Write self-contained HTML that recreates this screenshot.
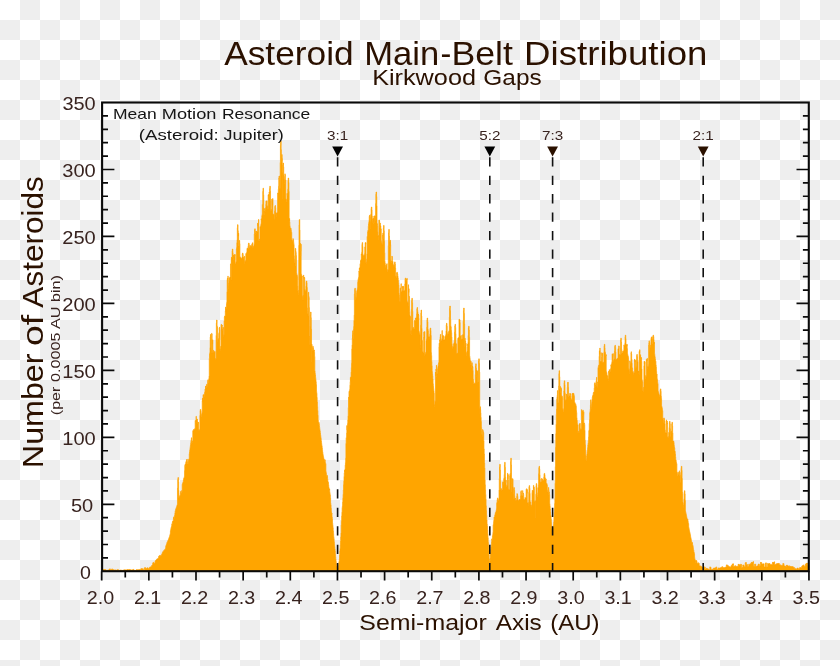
<!DOCTYPE html>
<html><head><meta charset="utf-8"><title>Asteroid Main-Belt Distribution</title>
<style>
html,body{margin:0;padding:0;width:840px;height:666px;overflow:hidden;background:#fff}
#bg{position:absolute;left:0;top:0;width:840px;height:666px;
background:repeating-conic-gradient(#eee 0% 25%,#fff 0% 50%) 0 0/40px 40px}
svg{position:absolute;left:0;top:0;will-change:transform}
text{font-family:"Liberation Sans",sans-serif}
</style></head><body>
<div id="bg"></div>
<svg width="840" height="666" viewBox="0 0 840 666">
<path d="M102.10,571.3V569.6H102.34V569.6H102.57V569.5H102.81V569.6H103.04V569.6H103.28V569.6H103.51V569.6H103.75V569.6H103.98V569.6H104.22V569.7H104.46V569.4H104.69V569.5H104.93V569.5H105.16V569.5H105.40V569.5H105.63V570.2H105.87V570.2H106.10V570.3H106.34V570.3H106.58V570.3H106.81V570.3H107.05V570.2H107.28V570.3H107.52V570.3H107.75V570.2H107.99V570.0H108.22V570.0H108.46V570.0H108.70V570.0H108.93V570.0H109.17V569.0H109.40V569.2H109.64V568.9H109.87V569.3H110.11V568.9H110.34V570.1H110.58V570.1H110.82V570.1H111.05V570.2H111.29V570.2H111.52V569.3H111.76V569.0H111.99V569.0H112.23V568.9H112.46V569.2H112.70V569.7H112.94V569.7H113.17V569.7H113.41V569.8H113.64V569.7H113.88V570.0H114.11V570.0H114.35V570.0H114.59V570.0H114.82V570.0H115.06V569.9H115.29V569.9H115.53V569.9H115.76V569.9H116.00V569.9H116.23V570.3H116.47V570.2H116.71V570.3H116.94V570.3H117.18V570.3H117.41V569.7H117.65V569.4H117.88V569.7H118.12V569.7H118.35V569.7H118.59V570.6H118.83V570.6H119.06V570.6H119.30V570.6H119.53V570.6H119.77V570.0H120.00V570.0H120.24V570.0H120.47V570.0H120.71V570.0H120.95V570.2H121.18V570.2H121.42V570.2H121.65V570.2H121.89V570.2H122.12V570.4H122.36V570.3H122.59V570.4H122.83V570.4H123.07V570.4H123.30V570.0H123.54V570.0H123.77V569.9H124.01V570.0H124.24V570.0H124.48V569.8H124.71V569.8H124.95V569.7H125.19V569.9H125.42V569.9H125.66V570.0H125.89V570.0H126.13V570.0H126.36V570.0H126.60V570.0H126.83V569.7H127.07V569.5H127.31V569.6H127.54V569.8H127.78V569.5H128.01V569.8H128.25V569.8H128.48V569.6H128.72V569.7H128.95V569.7H129.19V569.5H129.43V569.6H129.66V569.4H129.90V569.6H130.13V569.5H130.37V569.9H130.60V570.0H130.84V569.9H131.07V569.9H131.31V569.9H131.55V570.0H131.78V570.0H132.02V570.0H132.25V570.0H132.49V570.0H132.72V569.5H132.96V569.4H133.19V569.3H133.43V569.5H133.67V569.5H133.90V570.4H134.14V570.3H134.37V570.3H134.61V570.4H134.84V570.4H135.08V570.5H135.31V570.5H135.55V570.5H135.79V570.5H136.02V570.5H136.26V569.6H136.49V569.7H136.73V569.6H136.96V569.7H137.20V569.6H137.44V569.8H137.67V569.8H137.91V569.8H138.14V569.8H138.38V569.8H138.61V569.6H138.85V569.5H139.08V569.6H139.32V569.5H139.56V569.4H139.79V569.7H140.03V569.6H140.26V569.5H140.50V569.6H140.73V569.5H140.97V568.6H141.20V569.1H141.44V568.8H141.68V568.9H141.91V568.5H142.15V568.8H142.38V568.9H142.62V569.0H142.85V568.8H143.09V568.8H143.32V569.9H143.56V569.8H143.80V569.8H144.03V569.8H144.27V569.7H144.50V568.0H144.74V567.6H144.97V568.1H145.21V567.7H145.44V567.8H145.68V568.6H145.92V568.6H146.15V568.5H146.39V568.5H146.62V568.5H146.86V568.0H147.09V567.9H147.33V568.0H147.56V567.8H147.80V567.8H148.04V568.8H148.27V568.7H148.51V568.7H148.74V568.4H148.98V568.3H149.21V567.8H149.45V567.6H149.68V567.3H149.92V567.1H150.16V566.9H150.39V567.2H150.63V567.0H150.86V566.9H151.10V566.7H151.33V566.5H151.57V565.7H151.80V565.5H152.04V565.2H152.28V565.1H152.51V564.8H152.75V563.0H152.98V562.6H153.22V562.4H153.45V562.4H153.69V562.4H153.92V563.7H154.16V563.4H154.40V563.3H154.63V563.0H154.87V562.9H155.10V561.0H155.34V560.7H155.57V560.5H155.81V560.2H156.04V560.1H156.28V560.1H156.52V559.3H156.75V559.4H156.99V559.1H157.22V558.8H157.46V559.1H157.69V558.9H157.93V558.5H158.16V558.2H158.40V558.0H158.64V556.5H158.87V556.2H159.11V556.6H159.34V555.7H159.58V555.3H159.81V556.5H160.05V556.2H160.28V555.9H160.52V555.6H160.76V555.3H160.99V555.4H161.23V555.2H161.46V554.8H161.70V554.3H161.93V554.0H162.17V552.9H162.41V552.5H162.64V551.9H162.88V551.7H163.11V551.4H163.35V551.2H163.58V550.9H163.82V550.6H164.05V550.1H164.29V549.8H164.53V550.4H164.76V549.9H165.00V549.4H165.23V548.8H165.47V548.3H165.70V546.3H165.94V545.5H166.17V544.9H166.41V544.2H166.65V543.8H166.88V542.6H167.12V542.2H167.35V541.8H167.59V541.3H167.82V540.7H168.06V540.0H168.29V539.7H168.53V538.9H168.77V538.5H169.00V537.3H169.24V537.4H169.47V536.5H169.71V535.5H169.94V534.6H170.18V533.6H170.41V530.8H170.65V529.7H170.89V528.5H171.12V527.3H171.36V526.9H171.59V525.8H171.83V523.9H172.06V524.3H172.30V522.4H172.53V521.4H172.77V522.6H173.01V520.9H173.24V519.5H173.48V517.9H173.71V516.9H173.95V519.1H174.18V517.4H174.42V516.1H174.65V515.1H174.89V513.1H175.13V511.0H175.36V510.2H175.60V509.3H175.83V508.8H176.07V507.8H176.30V507.5H176.54V506.8H176.77V506.3H177.01V505.0H177.25V504.5H177.48V488.1H177.72V479.6H177.95V477.5H178.19V477.5H178.42V481.8H178.66V490.3H178.89V498.3H179.13V497.1H179.37V496.4H179.60V495.8H179.84V495.9H180.07V494.9H180.31V493.3H180.54V492.3H180.78V491.2H181.01V493.3H181.25V492.9H181.49V492.6H181.72V490.6H181.96V491.4H182.19V484.3H182.43V483.7H182.66V483.1H182.90V482.3H183.13V481.7H183.37V480.1H183.61V478.6H183.84V478.2H184.08V477.4H184.31V476.6H184.55V470.4H184.78V465.5H185.02V464.3H185.26V464.3H185.49V466.7H185.73V463.3H185.96V461.6H186.20V463.3H186.43V459.5H186.67V459.6H186.90V463.7H187.14V463.8H187.38V462.5H187.61V461.6H187.85V459.1H188.08V463.2H188.32V461.9H188.55V460.5H188.79V459.7H189.02V458.5H189.26V453.7H189.50V452.1H189.73V450.2H189.97V448.3H190.20V446.5H190.44V445.1H190.67V443.2H190.91V441.3H191.14V439.7H191.38V437.7H191.62V443.7H191.85V442.2H192.09V442.7H192.32V441.0H192.56V441.8H192.79V430.8H193.03V430.6H193.26V430.2H193.50V429.8H193.74V429.4H193.97V429.7H194.21V429.4H194.44V429.1H194.68V428.8H194.91V428.5H195.15V420.4H195.38V420.5H195.62V421.1H195.86V420.9H196.09V416.3H196.33V422.6H196.56V419.2H196.80V422.1H197.03V419.0H197.27V421.4H197.50V423.9H197.74V422.7H197.98V423.0H198.21V422.1H198.45V422.5H198.68V429.2H198.92V430.5H199.15V430.0H199.39V430.0H199.62V429.4H199.86V415.5H200.10V410.6H200.33V409.4H200.57V409.4H200.80V410.8H201.04V416.7H201.27V415.5H201.51V414.4H201.74V413.7H201.98V412.5H202.22V400.7H202.45V398.1H202.69V402.0H202.92V399.0H203.16V394.7H203.39V399.8H203.63V394.8H203.86V395.5H204.10V396.6H204.34V393.6H204.57V392.3H204.81V391.7H205.04V389.2H205.28V390.7H205.51V386.0H205.75V390.2H205.98V388.1H206.22V386.9H206.46V386.1H206.69V384.3H206.93V387.0H207.16V385.2H207.40V383.4H207.63V381.6H207.87V379.8H208.10V382.4H208.34V382.3H208.58V380.2H208.81V378.7H209.05V376.1H209.28V358.4H209.52V353.9H209.75V352.8H209.99V347.6H210.23V337.0H210.46V334.4H210.70V334.4H210.93V339.7H211.17V350.2H211.40V353.1H211.64V333.3H211.87V334.0H212.11V340.6H212.35V343.9H212.58V339.8H212.82V352.8H213.05V351.9H213.29V350.8H213.52V350.2H213.76V352.2H213.99V352.3H214.23V352.0H214.47V351.5H214.70V351.5H214.94V351.5H215.17V359.5H215.41V359.0H215.64V358.4H215.88V358.6H216.11V335.4H216.35V323.1H216.59V320.0H216.82V320.0H217.06V326.1H217.29V327.1H217.53V339.2H217.76V341.6H218.00V339.4H218.23V338.6H218.47V338.8H218.71V333.4H218.94V332.5H219.18V327.9H219.41V327.2H219.65V329.5H219.88V348.8H220.12V350.3H220.35V349.1H220.59V346.4H220.83V346.5H221.06V324.6H221.30V324.3H221.53V326.2H221.77V326.0H222.00V325.0H222.24V330.2H222.47V329.6H222.71V329.0H222.95V327.3H223.18V327.4H223.42V336.6H223.65V335.2H223.89V334.4H224.12V321.0H224.36V317.0H224.59V316.0H224.83V316.0H225.07V316.3H225.30V310.9H225.54V307.1H225.77V312.0H226.01V308.6H226.24V306.5H226.48V303.6H226.71V302.2H226.95V291.8H227.19V279.6H227.42V278.2H227.66V279.5H227.89V276.1H228.13V288.4H228.36V285.5H228.60V283.1H228.83V280.2H229.07V277.7H229.31V280.5H229.54V279.4H229.78V277.8H230.01V276.9H230.25V276.4H230.48V263.9H230.72V264.1H230.95V263.8H231.19V259.7H231.43V257.1H231.66V280.1H231.90V258.1H232.13V250.8H232.37V249.0H232.60V249.0H232.84V252.7H233.08V260.0H233.31V255.1H233.55V258.0H233.78V255.5H234.02V256.6H234.25V254.5H234.49V255.0H234.72V255.5H234.96V254.5H235.20V263.5H235.43V263.9H235.67V263.4H235.90V262.0H236.14V261.2H236.37V249.0H236.61V247.6H236.84V242.8H237.08V239.8H237.32V227.7H237.55V224.7H237.79V224.7H238.02V230.8H238.26V236.1H238.49V233.2H238.73V245.9H238.96V245.8H239.20V241.0H239.44V240.4H239.67V243.6H239.91V256.8H240.14V256.9H240.38V257.1H240.61V257.9H240.85V258.1H241.08V258.0H241.32V258.4H241.56V258.5H241.79V259.1H242.03V257.0H242.26V253.8H242.50V253.0H242.73V253.0H242.97V254.6H243.20V257.8H243.44V258.6H243.68V257.3H243.91V257.6H244.15V256.5H244.38V256.2H244.62V263.3H244.85V261.6H245.09V261.7H245.32V260.7H245.56V261.8H245.80V253.6H246.03V253.5H246.27V253.3H246.50V253.0H246.74V252.1H246.97V248.8H247.21V247.9H247.44V249.1H247.68V248.5H247.92V248.7H248.15V245.9H248.39V243.8H248.62V243.0H248.86V243.0H249.09V244.6H249.33V247.6H249.56V247.5H249.80V246.8H250.04V245.4H250.27V245.7H250.51V247.3H250.74V246.9H250.98V246.4H251.21V245.9H251.45V245.5H251.68V244.4H251.92V244.2H252.16V243.5H252.39V243.1H252.63V242.7H252.86V247.7H253.10V247.0H253.33V246.5H253.57V246.0H253.80V245.8H254.04V244.2H254.28V233.9H254.51V229.8H254.75V228.8H254.98V228.8H255.22V230.8H255.45V234.9H255.69V233.1H255.93V233.6H256.16V231.2H256.40V233.7H256.63V231.1H256.87V231.8H257.10V231.9H257.34V231.9H257.57V223.1H257.81V224.3H258.05V225.9H258.28V223.6H258.52V219.4H258.75V240.5H258.99V241.1H259.22V239.3H259.46V239.0H259.69V240.4H259.93V226.7H260.17V226.8H260.40V226.2H260.64V225.5H260.87V223.8H261.11V218.9H261.34V219.1H261.58V218.6H261.81V215.7H262.05V214.4H262.29V204.4H262.52V204.4H262.76V191.4H262.99V188.2H263.23V188.2H263.46V194.7H263.70V207.7H263.93V214.7H264.17V211.2H264.41V212.9H264.64V208.7H264.88V208.4H265.11V210.0H265.35V212.1H265.58V207.4H265.82V204.5H266.05V201.1H266.29V205.7H266.53V206.1H266.76V200.8H267.00V207.8H267.23V208.5H267.47V207.2H267.70V205.8H267.94V208.4H268.17V194.8H268.41V195.6H268.65V194.6H268.88V199.0H269.12V192.0H269.35V192.9H269.59V188.6H269.82V186.2H270.06V186.2H270.29V191.1H270.53V200.8H270.77V210.2H271.00V209.5H271.24V209.8H271.47V210.7H271.71V199.2H271.94V199.7H272.18V200.4H272.41V205.3H272.65V198.5H272.89V213.7H273.12V214.0H273.36V214.3H273.59V214.6H273.83V214.7H274.06V219.1H274.30V219.3H274.53V211.1H274.77V206.6H275.01V205.5H275.24V205.5H275.48V207.7H275.71V212.2H275.95V214.9H276.18V213.2H276.42V216.9H276.65V215.6H276.89V213.0H277.13V212.3H277.36V212.3H277.60V193.0H277.83V193.1H278.07V192.8H278.30V189.2H278.54V186.2H278.77V178.0H279.01V176.0H279.25V176.0H279.48V180.1H279.72V188.2H279.95V188.3H280.19V162.5H280.42V145.3H280.66V141.0H280.90V141.0H281.13V149.6H281.37V157.7H281.60V161.2H281.84V154.5H282.07V158.6H282.31V198.7H282.54V172.5H282.78V164.9H283.02V163.0H283.25V163.0H283.49V166.8H283.72V174.4H283.96V179.5H284.19V180.2H284.43V183.5H284.66V176.4H284.90V173.8H285.14V174.7H285.37V180.7H285.61V180.1H285.84V198.8H286.08V199.1H286.31V200.3H286.55V200.2H286.78V201.9H287.02V193.3H287.26V195.1H287.49V195.7H287.73V189.2H287.96V180.2H288.20V178.0H288.43V178.0H288.67V182.5H288.90V191.4H289.14V221.3H289.38V218.5H289.61V222.1H289.85V225.7H290.08V229.2H290.32V231.2H290.55V227.9H290.79V228.0H291.02V229.8H291.26V231.7H291.50V232.2H291.73V239.5H291.97V240.6H292.20V240.4H292.44V240.9H292.67V241.6H292.91V238.6H293.14V239.2H293.38V240.3H293.62V242.5H293.85V244.6H294.09V255.7H294.32V258.7H294.56V260.4H294.79V263.0H295.03V265.7H295.26V248.3H295.50V248.6H295.74V250.9H295.97V252.6H296.21V255.4H296.44V272.9H296.68V274.4H296.91V274.8H297.15V275.5H297.38V276.6H297.62V285.7H297.86V290.7H298.09V290.4H298.33V292.7H298.56V294.8H298.80V245.4H299.03V224.8H299.27V219.6H299.50V219.6H299.74V229.9H299.98V245.5H300.21V243.3H300.45V255.9H300.68V251.2H300.92V244.2H301.15V274.2H301.39V274.3H301.62V275.3H301.86V276.5H302.10V276.1H302.33V297.5H302.57V300.1H302.80V296.1H303.04V295.4H303.27V299.2H303.51V275.1H303.75V278.3H303.98V277.4H304.22V278.1H304.45V277.6H304.69V289.1H304.92V289.7H305.16V290.8H305.39V291.1H305.63V291.2H305.87V286.3H306.10V282.1H306.34V281.0H306.57V281.0H306.81V283.1H307.04V287.4H307.28V307.7H307.51V310.9H307.75V313.5H307.99V316.0H308.22V293.0H308.46V292.2H308.69V296.1H308.93V297.6H309.16V307.5H309.40V337.0H309.63V336.5H309.87V344.6H310.11V326.2H310.34V314.9H310.58V312.0H310.81V312.0H311.05V317.7H311.28V329.1H311.52V361.6H311.75V344.3H311.99V346.5H312.23V348.1H312.46V349.8H312.70V351.1H312.93V346.3H313.17V348.0H313.40V349.4H313.64V351.1H313.87V350.0H314.11V350.0H314.35V352.2H314.58V356.5H314.82V370.9H315.05V373.3H315.29V375.0H315.52V377.5H315.76V379.5H315.99V381.8H316.23V384.5H316.47V391.4H316.70V393.2H316.94V397.5H317.17V402.0H317.41V406.6H317.64V410.5H317.88V415.3H318.11V420.2H318.35V423.0H318.59V424.7H318.82V422.3H319.06V424.1H319.29V425.5H319.53V427.4H319.76V429.4H320.00V430.9H320.23V433.1H320.47V434.9H320.71V436.5H320.94V438.5H321.18V441.0H321.41V442.7H321.65V444.5H321.88V446.1H322.12V447.9H322.35V450.3H322.59V452.1H322.83V453.8H323.06V455.4H323.30V456.4H323.53V457.5H323.77V458.6H324.00V459.7H324.24V460.8H324.47V461.9H324.71V459.6H324.95V460.0H325.18V462.4H325.42V463.2H325.65V463.7H325.89V471.5H326.12V472.8H326.36V474.6H326.60V475.8H326.83V477.1H327.07V475.4H327.30V477.1H327.54V478.9H327.77V480.7H328.01V482.4H328.24V482.3H328.48V484.7H328.72V486.8H328.95V488.4H329.19V490.0H329.42V488.9H329.66V491.7H329.89V493.6H330.13V495.1H330.36V497.9H330.60V503.2H330.84V505.1H331.07V508.2H331.31V511.4H331.54V513.7H331.78V513.0H332.01V517.0H332.25V518.8H332.48V523.2H332.72V525.3H332.96V527.8H333.19V530.9H333.43V533.6H333.66V536.7H333.90V538.7H334.13V541.7H334.37V544.3H334.60V546.5H334.84V548.9H335.08V551.1H335.31V554.3H335.55V556.7H335.78V559.2H336.02V561.5H336.25V563.8H336.49V565.4H336.72V566.1H336.96V566.9H337.20V567.7H337.43V568.5H337.67V569.3H337.90V568.1H338.14V566.8H338.37V565.5H338.61V564.4H338.84V562.3H339.08V560.8H339.32V559.0H339.55V555.0H339.79V550.9H340.02V548.4H340.26V545.0H340.49V540.9H340.73V536.9H340.96V533.1H341.20V524.9H341.44V521.2H341.67V515.9H341.91V512.2H342.14V507.5H342.38V506.1H342.61V502.1H342.85V498.2H343.08V494.3H343.32V490.0H343.56V484.6H343.79V481.2H344.03V476.4H344.26V472.9H344.50V470.1H344.73V471.9H344.97V469.0H345.20V465.1H345.44V462.4H345.68V458.2H345.91V443.5H346.15V437.9H346.38V437.2H346.62V432.9H346.85V425.6H347.09V430.0H347.32V425.5H347.56V423.4H347.80V420.0H348.03V415.8H348.27V407.5H348.50V397.3H348.74V398.1H348.97V391.7H349.21V390.9H349.44V393.2H349.68V389.4H349.92V385.2H350.15V381.7H350.39V377.4H350.62V381.6H350.86V376.7H351.09V372.1H351.33V367.5H351.57V363.2H351.80V348.9H352.04V345.0H352.27V338.2H352.51V334.7H352.74V330.8H352.98V338.8H353.21V333.0H353.45V329.3H353.69V326.4H353.92V320.6H354.16V315.1H354.39V294.1H354.63V289.4H354.86V288.2H355.10V288.2H355.33V290.6H355.57V295.3H355.81V299.6H356.04V297.2H356.28V297.3H356.51V292.6H356.75V291.1H356.98V290.0H357.22V288.4H357.45V287.6H357.69V282.2H357.93V280.2H358.16V279.0H358.40V278.0H358.63V277.1H358.87V271.1H359.10V271.6H359.34V268.0H359.57V269.9H359.81V267.4H360.05V263.8H360.28V264.2H360.52V260.6H360.75V261.6H360.99V259.2H361.22V253.9H361.46V255.0H361.69V252.2H361.93V244.5H362.17V242.6H362.40V242.6H362.64V246.5H362.87V254.2H363.11V257.2H363.34V255.6H363.58V256.8H363.81V255.9H364.05V255.1H364.29V254.4H364.52V253.5H364.76V247.0H364.99V246.7H365.23V242.7H365.46V244.1H365.70V242.6H365.93V263.3H366.17V262.0H366.41V261.6H366.64V259.1H366.88V253.9H367.11V236.5H367.35V236.1H367.58V231.9H367.82V230.6H368.05V230.3H368.29V226.2H368.53V223.7H368.76V222.4H369.00V220.4H369.23V216.3H369.47V215.3H369.70V215.3H369.94V217.3H370.17V221.4H370.41V228.9H370.65V214.7H370.88V214.0H371.12V208.5H371.35V207.0H371.59V207.0H371.82V210.0H372.06V216.0H372.29V218.7H372.53V222.2H372.77V221.4H373.00V218.5H373.24V223.5H373.47V218.6H373.71V219.3H373.94V216.0H374.18V222.2H374.42V219.2H374.65V215.8H374.89V216.0H375.12V216.3H375.36V220.6H375.59V203.5H375.83V194.3H376.06V192.0H376.30V192.0H376.54V196.6H376.77V205.8H377.01V223.4H377.24V223.8H377.48V225.9H377.71V231.8H377.95V236.3H378.18V237.0H378.42V235.5H378.66V239.5H378.89V220.3H379.13V219.9H379.36V220.8H379.60V225.1H379.83V227.5H380.07V223.0H380.30V227.5H380.54V225.9H380.78V228.3H381.01V229.0H381.25V240.7H381.48V241.8H381.72V242.9H381.95V244.0H382.19V245.1H382.42V235.2H382.66V235.5H382.90V233.1H383.13V238.6H383.37V228.0H383.60V225.4H383.84V225.4H384.07V230.7H384.31V241.2H384.54V252.7H384.78V261.2H385.02V263.1H385.25V265.1H385.49V267.0H385.72V267.6H385.96V265.5H386.19V264.9H386.43V264.7H386.66V264.0H386.90V263.7H387.14V271.6H387.37V271.2H387.61V269.9H387.84V269.6H388.08V270.0H388.31V245.6H388.55V232.7H388.78V229.4H389.02V229.4H389.26V235.9H389.49V246.7H389.73V241.7H389.96V245.7H390.20V240.2H390.43V244.7H390.67V259.8H390.90V261.8H391.14V261.0H391.38V261.6H391.61V262.4H391.85V256.1H392.08V256.6H392.32V261.4H392.55V261.2H392.79V261.7H393.02V264.0H393.26V265.3H393.50V265.2H393.73V266.3H393.97V265.5H394.20V266.9H394.44V262.9H394.67V261.9H394.91V261.9H395.14V263.9H395.38V268.0H395.62V275.8H395.85V276.2H396.09V277.8H396.32V278.1H396.56V273.0H396.79V272.4H397.03V272.2H397.27V273.0H397.50V273.9H397.74V275.9H397.97V277.9H398.21V280.3H398.44V282.7H398.68V285.1H398.91V293.2H399.15V295.1H399.39V297.5H399.62V300.4H399.86V301.5H400.09V288.2H400.33V287.9H400.56V288.2H400.80V288.6H401.03V283.7H401.27V291.4H401.51V291.9H401.74V291.7H401.98V290.7H402.21V290.0H402.45V286.3H402.68V288.4H402.92V286.3H403.15V286.2H403.39V286.5H403.63V290.9H403.86V290.8H404.10V290.4H404.33V290.4H404.57V290.2H404.80V284.0H405.04V279.2H405.27V278.0H405.51V278.0H405.75V280.4H405.98V281.3H406.22V280.8H406.45V279.3H406.69V280.0H406.92V278.3H407.16V301.8H407.39V301.7H407.63V302.6H407.87V302.6H408.10V305.4H408.34V284.7H408.57V292.5H408.81V288.7H409.04V296.7H409.28V296.4H409.51V311.4H409.75V315.1H409.99V316.7H410.22V316.4H410.46V317.0H410.69V333.9H410.93V330.6H411.16V334.9H411.40V309.1H411.63V300.5H411.87V298.3H412.11V298.3H412.34V302.6H412.58V311.3H412.81V328.3H413.05V327.4H413.28V327.6H413.52V328.2H413.75V328.5H413.99V328.7H414.23V320.5H414.46V320.5H414.70V320.6H414.93V320.7H415.17V320.8H415.40V318.0H415.64V318.5H415.87V318.0H416.11V317.8H416.35V316.6H416.58V313.7H416.82V308.9H417.05V307.5H417.29V307.5H417.52V310.4H417.76V312.1H417.99V318.3H418.23V314.0H418.47V315.0H418.70V318.2H418.94V330.8H419.17V331.8H419.41V332.9H419.64V334.0H419.88V335.0H420.12V344.9H420.35V348.1H420.59V325.2H420.82V313.1H421.06V310.0H421.29V310.0H421.53V316.1H421.76V328.3H422.00V340.2H422.24V340.4H422.47V351.1H422.71V351.8H422.94V352.4H423.18V352.4H423.41V352.3H423.65V337.1H423.88V331.9H424.12V335.6H424.36V338.4H424.59V331.5H424.83V355.5H425.06V353.9H425.30V354.5H425.53V352.4H425.77V352.2H426.00V340.6H426.24V339.8H426.48V338.7H426.71V327.2H426.95V319.9H427.18V318.0H427.42V318.0H427.65V321.7H427.89V329.1H428.12V330.8H428.36V336.0H428.60V336.7H428.83V336.9H429.07V337.2H429.30V338.2H429.54V336.6H429.77V334.2H430.01V329.2H430.24V328.0H430.48V328.0H430.72V330.5H430.95V335.5H431.19V352.4H431.42V355.4H431.66V361.6H431.89V365.8H432.13V371.4H432.36V373.7H432.60V375.8H432.84V379.1H433.07V383.8H433.31V386.2H433.54V388.5H433.78V390.8H434.01V393.2H434.25V406.9H434.48V404.9H434.72V404.1H434.96V401.4H435.19V401.0H435.43V372.0H435.66V375.9H435.90V369.2H436.13V370.7H436.37V365.2H436.60V376.4H436.84V374.3H437.08V373.2H437.31V371.0H437.55V368.7H437.78V367.5H438.02V365.7H438.25V364.3H438.49V362.9H438.72V362.5H438.96V346.9H439.20V343.2H439.43V349.3H439.67V339.8H439.90V341.3H440.14V336.8H440.37V334.4H440.61V334.4H440.84V339.1H441.08V340.4H441.32V341.1H441.55V340.7H441.79V338.5H442.02V330.5H442.26V335.3H442.49V338.8H442.73V338.7H442.96V335.7H443.20V335.7H443.44V335.7H443.67V340.1H443.91V340.0H444.14V339.9H444.38V339.7H444.61V339.5H444.85V336.9H445.09V336.0H445.32V336.4H445.56V335.5H445.79V334.6H446.03V330.9H446.26V324.8H446.50V323.3H446.73V323.3H446.97V326.3H447.21V332.4H447.44V335.3H447.68V334.7H447.91V334.0H448.15V333.3H448.38V332.1H448.62V331.5H448.85V331.0H449.09V330.2H449.33V317.2H449.56V308.2H449.80V306.0H450.03V306.0H450.27V310.5H450.50V319.4H450.74V325.7H450.97V327.0H451.21V330.3H451.45V332.6H451.68V337.0H451.92V343.8H452.15V346.2H452.39V348.6H452.62V348.3H452.86V346.7H453.09V346.6H453.33V345.5H453.57V343.9H453.80V343.5H454.04V342.6H454.27V340.3H454.51V332.1H454.74V325.9H454.98V324.3H455.21V324.3H455.45V327.4H455.69V333.7H455.92V343.4H456.16V343.8H456.39V344.1H456.63V353.5H456.86V353.3H457.10V353.8H457.33V352.9H457.57V352.9H457.81V338.5H458.04V338.1H458.28V337.7H458.51V337.6H458.75V337.7H458.98V319.3H459.22V319.3H459.45V321.5H459.69V319.8H459.93V322.6H460.16V336.3H460.40V336.1H460.63V336.0H460.87V335.7H461.10V335.5H461.34V340.1H461.57V339.3H461.81V339.1H462.05V338.8H462.28V338.7H462.52V334.8H462.75V334.7H462.99V334.5H463.22V321.2H463.46V310.6H463.69V308.0H463.93V308.0H464.17V313.3H464.40V323.8H464.64V346.2H464.87V338.2H465.11V341.4H465.34V340.9H465.58V345.9H465.81V343.3H466.05V355.4H466.29V352.8H466.52V352.4H466.76V352.4H466.99V350.9H467.23V346.9H467.46V344.3H467.70V345.3H467.94V342.6H468.17V335.5H468.41V328.1H468.64V326.3H468.88V326.3H469.11V330.0H469.35V337.3H469.58V356.0H469.82V357.6H470.06V359.8H470.29V362.0H470.53V364.7H470.76V361.0H471.00V362.7H471.23V364.7H471.47V366.3H471.70V368.1H471.94V362.7H472.18V366.8H472.41V366.1H472.65V367.0H472.88V370.6H473.12V378.9H473.35V380.2H473.59V382.0H473.82V383.9H474.06V384.1H474.30V383.8H474.53V383.4H474.77V383.0H475.00V383.2H475.24V374.4H475.47V365.9H475.71V363.8H475.94V363.8H476.18V368.0H476.42V376.5H476.65V370.0H476.89V372.5H477.12V374.5H477.36V371.2H477.59V373.9H477.83V382.3H478.06V382.0H478.30V369.9H478.54V361.0H478.77V358.8H479.01V358.8H479.24V363.2H479.48V372.1H479.71V408.2H479.95V414.0H480.18V406.7H480.42V409.6H480.66V412.9H480.89V417.4H481.13V421.4H481.36V427.3H481.60V430.8H481.83V434.3H482.07V435.8H482.30V436.8H482.54V429.5H482.78V429.9H483.01V430.7H483.25V432.0H483.48V432.5H483.72V440.8H483.95V448.9H484.19V454.0H484.42V462.9H484.66V467.9H484.90V479.9H485.13V484.7H485.37V489.7H485.60V494.4H485.84V499.1H486.07V505.8H486.31V510.4H486.54V515.2H486.78V520.0H487.02V524.0H487.25V526.1H487.49V529.7H487.72V533.7H487.96V537.8H488.19V542.3H488.43V546.0H488.66V550.6H488.90V554.6H489.14V558.9H489.37V563.1H489.61V563.5H489.84V560.8H490.08V557.9H490.31V555.0H490.55V552.4H490.78V549.6H491.02V547.1H491.26V544.4H491.49V541.7H491.73V539.1H491.96V540.2H492.20V537.9H492.43V536.0H492.67V534.7H492.91V532.5H493.14V525.0H493.38V523.8H493.61V521.5H493.85V520.1H494.08V517.1H494.32V518.6H494.55V516.7H494.79V515.1H495.03V514.2H495.26V512.7H495.50V513.3H495.73V512.4H495.97V511.1H496.20V510.1H496.44V508.5H496.67V503.2H496.91V502.2H497.15V499.9H497.38V498.6H497.62V497.9H497.85V501.3H498.09V500.7H498.32V500.1H498.56V499.6H498.79V498.8H499.03V489.9H499.27V478.5H499.50V467.1H499.74V464.3H499.97V464.3H500.21V470.0H500.44V481.3H500.68V490.0H500.91V488.9H501.15V488.6H501.39V490.6H501.62V490.3H501.86V490.0H502.09V489.7H502.33V489.5H502.56V483.6H502.80V481.8H503.03V484.3H503.27V482.1H503.51V482.2H503.74V478.7H503.98V477.7H504.21V474.5H504.45V464.7H504.68V462.3H504.92V462.3H505.15V467.2H505.39V476.9H505.63V482.6H505.86V480.1H506.10V484.8H506.33V485.9H506.57V486.4H506.80V486.4H507.04V485.3H507.27V480.3H507.51V473.2H507.75V479.3H507.98V474.6H508.22V479.9H508.45V489.1H508.69V489.2H508.92V489.4H509.16V489.6H509.39V489.7H509.63V475.8H509.87V474.4H510.10V473.6H510.34V474.4H510.57V461.4H510.81V458.2H511.04V458.2H511.28V464.7H511.51V477.7H511.75V492.0H511.99V478.8H512.22V483.9H512.46V486.2H512.69V478.8H512.93V486.6H513.16V498.4H513.40V494.2H513.63V488.9H513.87V487.6H514.11V487.6H514.34V490.2H514.58V495.5H514.81V499.0H515.05V498.0H515.28V498.4H515.52V500.3H515.76V500.2H515.99V500.1H516.23V499.9H516.46V500.2H516.70V496.3H516.93V493.6H517.17V494.0H517.40V494.6H517.64V496.3H517.88V500.3H518.11V500.2H518.35V500.3H518.58V500.3H518.82V500.1H519.05V499.6H519.29V499.5H519.52V499.7H519.76V500.0H520.00V499.4H520.23V500.0H520.47V495.8H520.70V491.7H520.94V490.7H521.17V490.7H521.41V492.7H521.64V494.9H521.88V495.8H522.12V496.0H522.35V495.6H522.59V490.6H522.82V493.4H523.06V493.3H523.29V493.0H523.53V494.3H523.76V499.3H524.00V499.7H524.24V499.4H524.47V499.2H524.71V499.4H524.94V497.5H525.18V497.8H525.41V497.9H525.65V497.9H525.88V497.9H526.12V489.3H526.36V489.5H526.59V488.7H526.83V493.4H527.06V489.6H527.30V502.7H527.53V503.0H527.77V502.9H528.00V502.6H528.24V503.4H528.48V506.0H528.71V492.2H528.95V486.9H529.18V485.6H529.42V485.6H529.65V488.2H529.89V493.5H530.12V501.8H530.36V502.1H530.60V502.1H530.83V505.1H531.07V504.9H531.30V505.4H531.54V505.8H531.77V506.2H532.01V492.4H532.24V490.3H532.48V490.9H532.72V493.2H532.95V490.5H533.19V491.1H533.42V485.3H533.66V489.2H533.89V486.9H534.13V488.8H534.36V501.0H534.60V501.6H534.84V501.9H535.07V500.8H535.31V501.6H535.54V517.7H535.78V494.3H536.01V485.7H536.25V483.6H536.48V483.6H536.72V487.9H536.96V496.4H537.19V496.7H537.43V494.8H537.66V492.8H537.90V487.6H538.13V487.2H538.37V484.8H538.61V473.4H538.84V467.7H539.08V466.3H539.31V466.3H539.55V469.1H539.78V474.8H540.02V479.0H540.25V482.3H540.49V482.1H540.73V482.0H540.96V481.8H541.20V481.9H541.43V478.4H541.67V478.8H541.90V479.1H542.14V479.1H542.37V478.9H542.61V480.2H542.85V480.3H543.08V480.2H543.32V480.3H543.55V480.3H543.79V476.9H544.02V474.1H544.26V473.4H544.49V473.4H544.73V474.8H544.97V477.7H545.20V478.1H545.44V479.9H545.67V480.0H545.91V478.9H546.14V483.0H546.38V483.4H546.61V483.9H546.85V483.7H547.09V485.0H547.32V489.8H547.56V491.2H547.79V491.7H548.03V493.1H548.26V494.7H548.50V487.4H548.73V489.5H548.97V491.9H549.21V491.9H549.44V494.6H549.68V503.8H549.91V506.2H550.15V509.0H550.38V511.9H550.62V514.7H550.85V515.7H551.09V519.0H551.33V522.3H551.56V525.7H551.80V529.1H552.03V530.6H552.27V534.5H552.50V532.6H552.74V529.7H552.97V527.4H553.21V526.7H553.45V524.3H553.68V522.0H553.92V517.1H554.15V512.2H554.39V508.3H554.62V503.5H554.86V498.4H555.09V483.2H555.33V466.6H555.57V447.3H555.80V433.7H556.04V424.2H556.27V414.4H556.51V409.0H556.74V399.1H556.98V397.1H557.21V395.3H557.45V390.8H557.69V390.5H557.92V403.0H558.16V402.5H558.39V402.2H558.63V385.9H558.86V373.7H559.10V370.7H559.33V370.7H559.57V376.8H559.81V388.9H560.04V393.1H560.28V386.4H560.51V391.3H560.75V391.4H560.98V387.8H561.22V389.0H561.45V396.2H561.69V395.8H561.93V396.0H562.16V396.6H562.40V397.4H562.63V409.2H562.87V408.7H563.10V409.7H563.34V411.6H563.58V411.4H563.81V390.9H564.05V382.8H564.28V380.8H564.52V380.8H564.75V384.8H564.99V392.9H565.22V400.2H565.46V400.0H565.70V399.8H565.93V399.6H566.17V394.0H566.40V394.8H566.64V394.7H566.87V394.8H567.11V395.7H567.34V387.3H567.58V382.4H567.82V382.9H568.05V382.4H568.29V387.3H568.52V396.4H568.76V396.4H568.99V395.7H569.23V395.7H569.46V395.9H569.70V393.4H569.94V393.5H570.17V394.5H570.41V393.7H570.64V395.7H570.88V398.3H571.11V398.9H571.35V399.5H571.58V399.7H571.82V399.9H572.06V393.8H572.29V393.3H572.53V395.0H572.76V395.6H573.00V393.2H573.23V395.7H573.47V393.8H573.70V393.6H573.94V395.2H574.18V396.3H574.41V402.0H574.65V403.1H574.88V402.8H575.12V404.4H575.35V404.2H575.59V403.9H575.82V405.2H576.06V406.2H576.30V410.4H576.53V412.5H576.77V417.7H577.00V420.5H577.24V423.4H577.47V425.1H577.71V425.0H577.94V432.9H578.18V432.8H578.42V431.6H578.65V431.2H578.89V432.7H579.12V424.1H579.36V423.8H579.59V423.7H579.83V423.6H580.06V423.4H580.30V429.6H580.54V429.9H580.77V428.8H581.01V429.3H581.24V428.5H581.48V409.6H581.71V411.2H581.95V415.0H582.18V415.7H582.42V411.1H582.66V415.7H582.89V410.0H583.13V413.9H583.36V414.4H583.60V411.8H583.83V423.1H584.07V423.1H584.30V423.1H584.54V424.4H584.78V430.3H585.01V440.3H585.25V444.5H585.48V450.1H585.72V455.2H585.95V459.9H586.19V460.7H586.43V458.4H586.66V456.0H586.90V454.1H587.13V451.6H587.37V450.0H587.60V447.5H587.84V444.9H588.07V443.1H588.31V440.5H588.55V436.8H588.78V430.8H589.02V429.8H589.25V423.3H589.49V419.4H589.72V412.7H589.96V411.4H590.19V409.2H590.43V405.2H590.67V399.8H590.90V408.5H591.14V406.7H591.37V405.3H591.61V403.5H591.84V401.7H592.08V398.7H592.31V397.0H592.55V395.9H592.79V395.3H593.02V394.7H593.26V392.7H593.49V392.5H593.73V393.0H593.96V391.8H594.20V387.9H594.43V383.8H594.67V382.8H594.91V382.8H595.14V384.8H595.38V386.5H595.61V384.8H595.85V382.9H596.08V381.1H596.32V379.5H596.55V377.3H596.79V386.3H597.03V387.3H597.26V384.1H597.50V381.9H597.73V382.8H597.97V368.1H598.20V366.7H598.44V365.6H598.67V365.3H598.91V364.9H599.15V356.3H599.38V350.8H599.62V354.3H599.85V348.0H600.09V352.6H600.32V362.0H600.56V361.6H600.79V361.2H601.03V361.0H601.27V361.5H601.50V356.6H601.74V352.7H601.97V355.9H602.21V353.4H602.44V353.3H602.68V362.2H602.91V362.3H603.15V362.3H603.39V362.1H603.62V362.3H603.86V352.5H604.09V346.1H604.33V344.3H604.56V344.3H604.80V348.0H605.03V351.8H605.27V352.5H605.51V354.1H605.74V356.0H605.98V354.7H606.21V371.5H606.45V372.0H606.68V372.8H606.92V374.8H607.15V375.3H607.39V376.0H607.63V376.0H607.86V378.5H608.10V379.0H608.33V380.6H608.57V371.3H608.80V371.8H609.04V372.7H609.28V369.6H609.51V371.1H609.75V372.3H609.98V371.8H610.22V370.1H610.45V368.9H610.69V368.4H610.92V364.8H611.16V366.1H611.40V363.7H611.63V363.7H611.87V361.8H612.10V353.9H612.34V354.0H612.57V357.6H612.81V356.0H613.04V353.6H613.28V361.3H613.52V360.7H613.75V359.9H613.99V359.1H614.22V358.3H614.46V350.9H614.69V346.4H614.93V345.3H615.16V345.3H615.40V347.5H615.64V352.0H615.87V359.8H616.11V359.8H616.34V359.4H616.58V359.7H616.81V359.0H617.05V358.9H617.28V358.2H617.52V358.5H617.76V358.2H617.99V348.8H618.23V348.9H618.46V348.6H618.70V345.9H618.93V346.1H619.17V353.9H619.40V354.3H619.64V354.5H619.88V354.4H620.11V354.5H620.35V347.4H620.58V340.0H620.82V338.2H621.05V338.2H621.29V341.9H621.52V349.2H621.76V354.0H622.00V353.0H622.23V352.8H622.47V352.4H622.70V351.1H622.94V351.0H623.17V350.9H623.41V351.4H623.64V350.8H623.88V344.9H624.12V345.2H624.35V345.9H624.59V345.7H624.82V343.6H625.06V336.9H625.29V335.2H625.53V335.2H625.76V338.6H626.00V345.3H626.24V347.3H626.47V344.6H626.71V346.1H626.94V344.3H627.18V348.5H627.41V353.6H627.65V354.6H627.88V355.7H628.12V356.5H628.36V357.5H628.59V367.7H628.83V369.5H629.06V369.6H629.30V371.4H629.53V373.7H629.77V361.0H630.00V361.9H630.24V363.4H630.48V364.0H630.71V365.2H630.95V352.9H631.18V351.7H631.42V354.0H631.65V359.1H631.89V363.2H632.12V367.7H632.36V368.1H632.60V371.2H632.83V371.4H633.07V371.6H633.30V373.8H633.54V374.8H633.77V372.9H634.01V373.1H634.25V372.1H634.48V359.2H634.72V361.8H634.95V359.9H635.19V360.5H635.42V360.8H635.66V368.3H635.89V367.4H636.13V366.3H636.37V359.5H636.60V355.4H636.84V354.4H637.07V354.4H637.31V356.4H637.54V360.5H637.78V361.9H638.01V373.2H638.25V371.0H638.49V373.3H638.72V371.0H638.96V374.5H639.19V351.5H639.43V352.8H639.66V349.7H639.90V356.2H640.13V359.2H640.37V354.7H640.61V359.0H640.84V358.8H641.08V357.5H641.31V357.5H641.55V361.3H641.78V369.0H642.02V379.7H642.25V381.2H642.49V382.0H642.73V390.4H642.96V391.5H643.20V388.6H643.43V387.5H643.67V388.0H643.90V365.8H644.14V361.2H644.37V364.2H644.61V361.6H644.85V362.1H645.08V378.7H645.32V378.2H645.55V376.6H645.79V375.5H646.02V376.6H646.26V359.5H646.49V359.6H646.73V361.0H646.97V358.4H647.20V358.4H647.44V368.5H647.67V366.8H647.91V366.7H648.14V366.0H648.38V364.2H648.61V345.1H648.85V343.1H649.09V340.8H649.32V342.6H649.56V342.4H649.79V351.2H650.03V347.5H650.26V345.5H650.50V345.2H650.73V345.1H650.97V338.5H651.21V337.5H651.44V336.9H651.68V337.3H651.91V337.1H652.15V343.4H652.38V343.5H652.62V338.8H652.85V335.9H653.09V335.2H653.33V335.2H653.56V336.6H653.80V339.5H654.03V343.6H654.27V342.3H654.50V353.7H654.74V355.5H654.97V357.3H655.21V359.0H655.45V361.3H655.68V361.2H655.92V364.9H656.15V367.1H656.39V371.2H656.62V374.3H656.86V374.1H657.10V378.8H657.33V379.8H657.57V382.5H657.80V383.7H658.04V390.9H658.27V391.9H658.51V392.6H658.74V393.5H658.98V394.4H659.22V395.2H659.45V396.2H659.69V397.0H659.92V394.9H660.16V390.1H660.39V388.9H660.63V388.9H660.86V391.3H661.10V396.2H661.34V398.5H661.57V405.9H661.81V406.8H662.04V408.0H662.28V409.5H662.51V410.7H662.75V418.2H662.98V418.4H663.22V420.0H663.46V421.6H663.69V422.4H663.93V417.9H664.16V419.1H664.40V420.6H664.63V421.1H664.87V423.7H665.10V429.9H665.34V432.1H665.58V432.5H665.81V433.1H666.05V433.1H666.28V419.9H666.52V422.9H666.75V424.1H666.99V421.0H667.22V422.9H667.46V436.6H667.70V437.0H667.93V437.4H668.17V436.7H668.40V437.0H668.64V432.5H668.87V432.7H669.11V427.4H669.34V422.5H669.58V421.3H669.82V421.3H670.05V423.7H670.29V428.6H670.52V435.7H670.76V436.4H670.99V431.6H671.23V434.1H671.46V431.1H671.70V424.1H671.94V422.3H672.17V422.3H672.41V425.8H672.64V432.9H672.88V441.1H673.11V442.8H673.35V441.1H673.58V441.3H673.82V442.4H674.06V445.3H674.29V447.1H674.53V447.9H674.76V451.1H675.00V451.5H675.23V454.1H675.47V456.9H675.70V459.8H675.94V460.3H676.18V462.1H676.41V463.5H676.65V463.6H676.88V471.8H677.12V472.8H677.35V474.1H677.59V475.5H677.82V475.5H678.06V472.2H678.30V473.5H678.53V474.3H678.77V475.1H679.00V475.8H679.24V470.8H679.47V471.7H679.71V473.0H679.95V472.7H680.18V474.8H680.42V481.7H680.65V482.6H680.89V476.5H681.12V468.3H681.36V466.3H681.59V466.3H681.83V470.4H682.07V478.5H682.30V492.1H682.54V493.7H682.77V502.1H683.01V503.2H683.24V505.1H683.48V505.1H683.71V507.6H683.95V498.8H684.19V492.3H684.42V490.7H684.66V490.7H684.89V493.9H685.13V500.4H685.36V511.0H685.60V512.1H685.83V513.2H686.07V514.3H686.31V515.3H686.54V516.4H686.78V517.6H687.01V518.7H687.25V519.8H687.48V519.2H687.72V519.2H687.95V521.4H688.19V523.2H688.43V523.5H688.66V527.2H688.90V528.4H689.13V529.7H689.37V530.9H689.60V532.1H689.84V532.7H690.07V534.2H690.31V535.2H690.55V536.7H690.78V537.8H691.02V539.2H691.25V540.4H691.49V541.5H691.72V542.6H691.96V543.7H692.19V542.5H692.43V544.5H692.67V544.9H692.90V546.1H693.14V547.6H693.37V549.6H693.61V550.2H693.84V552.0H694.08V552.8H694.31V554.1H694.55V557.5H694.79V558.9H695.02V560.2H695.26V561.3H695.49V562.4H695.73V560.3H695.96V560.5H696.20V561.1H696.43V560.7H696.67V560.8H696.91V562.8H697.14V563.0H697.38V563.3H697.61V563.5H697.85V563.7H698.08V562.7H698.32V563.2H698.55V563.2H698.79V563.2H699.03V563.3H699.26V565.6H699.50V565.7H699.73V565.9H699.97V566.1H700.20V566.3H700.44V565.9H700.67V566.1H700.91V566.2H701.15V566.4H701.38V566.6H701.62V566.7H701.85V566.9H702.09V567.1H702.32V567.2H702.56V567.4H702.79V567.7H703.03V567.8H703.27V567.9H703.50V567.9H703.74V568.1H703.97V566.7H704.21V567.4H704.44V567.4H704.68V567.6H704.92V567.0H705.15V569.1H705.39V569.1H705.62V569.0H705.86V569.0H706.09V569.0H706.33V568.3H706.56V568.2H706.80V568.4H707.04V568.4H707.27V568.4H707.51V568.9H707.74V569.0H707.98V569.0H708.21V568.9H708.45V568.9H708.68V569.6H708.92V569.6H709.16V569.9H709.39V569.8H709.63V570.0H709.86V566.9H710.10V567.0H710.33V567.3H710.57V567.0H710.80V567.5H711.04V569.4H711.28V569.6H711.51V569.5H711.75V569.4H711.98V569.4H712.22V569.1H712.45V569.3H712.69V569.2H712.92V569.3H713.16V569.3H713.40V568.1H713.63V568.1H713.87V568.2H714.10V568.1H714.34V568.1H714.57V568.0H714.81V568.0H715.04V567.9H715.28V567.8H715.52V567.8H715.75V567.6H715.99V566.9H716.22V566.9H716.46V567.2H716.69V567.5H716.93V569.9H717.16V569.7H717.40V569.5H717.64V569.6H717.87V569.7H718.11V567.9H718.34V568.0H718.58V568.0H718.81V568.0H719.05V568.0H719.28V568.1H719.52V568.1H719.76V568.2H719.99V568.1H720.23V568.1H720.46V567.7H720.70V567.5H720.93V567.4H721.17V567.4H721.40V567.3H721.64V567.0H721.88V567.2H722.11V566.7H722.35V567.1H722.58V566.8H722.82V567.7H723.05V567.7H723.29V567.6H723.52V567.6H723.76V567.5H724.00V567.6H724.23V567.6H724.47V567.5H724.70V567.5H724.94V567.5H725.17V567.3H725.41V567.2H725.64V567.1H725.88V567.1H726.12V567.1H726.35V565.0H726.59V564.9H726.82V565.1H727.06V564.9H727.29V565.7H727.53V566.3H727.77V565.6H728.00V565.7H728.24V566.2H728.47V566.1H728.71V566.8H728.94V566.8H729.18V566.8H729.41V566.7H729.65V566.7H729.89V567.2H730.12V567.2H730.36V567.0H730.59V567.0H730.83V566.9H731.06V565.8H731.30V566.0H731.53V565.6H731.77V565.7H732.01V565.8H732.24V563.9H732.48V564.7H732.71V564.2H732.95V564.7H733.18V563.7H733.42V566.8H733.65V566.8H733.89V566.5H734.13V566.7H734.36V566.6H734.60V565.9H734.83V565.8H735.07V565.8H735.30V565.8H735.54V565.7H735.77V566.5H736.01V566.4H736.25V566.6H736.48V566.4H736.72V566.4H736.95V566.3H737.19V566.5H737.42V566.3H737.66V566.5H737.89V566.5H738.13V564.3H738.37V564.6H738.60V564.2H738.84V564.5H739.07V564.3H739.31V565.2H739.54V565.1H739.78V565.1H740.01V565.1H740.25V565.2H740.49V564.3H740.72V564.3H740.96V564.3H741.19V564.6H741.43V564.5H741.66V567.4H741.90V567.8H742.13V567.2H742.37V567.6H742.61V567.9H742.84V565.0H743.08V565.1H743.31V565.0H743.55V565.0H743.78V565.0H744.02V566.8H744.25V566.7H744.49V566.7H744.73V566.6H744.96V566.7H745.20V562.9H745.43V562.6H745.67V562.8H745.90V562.7H746.14V562.5H746.37V564.5H746.61V564.6H746.85V564.7H747.08V564.5H747.32V564.5H747.55V566.5H747.79V566.8H748.02V566.4H748.26V566.8H748.49V566.5H748.73V564.2H748.97V564.4H749.20V564.3H749.44V564.3H749.67V564.3H749.91V564.2H750.14V564.0H750.38V563.7H750.62V563.8H750.85V563.7H751.09V562.6H751.32V562.5H751.56V562.3H751.79V562.5H752.03V563.1H752.26V562.5H752.50V562.2H752.74V562.9H752.97V562.5H753.21V561.4H753.44V566.3H753.68V565.9H753.91V566.2H754.15V566.2H754.38V566.2H754.62V564.1H754.86V564.2H755.09V564.2H755.33V564.1H755.56V564.2H755.80V566.7H756.03V566.5H756.27V566.6H756.50V566.9H756.74V566.3H756.98V566.0H757.21V566.0H757.45V565.9H757.68V566.1H757.92V565.8H758.15V564.1H758.39V564.1H758.62V564.1H758.86V564.2H759.10V564.1H759.33V565.8H759.57V566.2H759.80V565.7H760.04V565.8H760.27V566.1H760.51V562.2H760.74V563.0H760.98V562.8H761.22V562.5H761.45V562.5H761.69V564.0H761.92V564.1H762.16V564.1H762.39V564.1H762.63V564.2H762.86V563.8H763.10V564.0H763.34V564.0H763.57V563.8H763.81V563.9H764.04V566.9H764.28V567.0H764.51V567.0H764.75V567.1H764.98V566.7H765.22V563.1H765.46V563.1H765.69V563.2H765.93V562.8H766.16V563.1H766.40V566.5H766.63V566.8H766.87V567.2H767.10V567.0H767.34V566.7H767.58V563.4H767.81V563.8H768.05V563.9H768.28V563.7H768.52V563.7H768.75V563.6H768.99V563.7H769.22V563.6H769.46V564.0H769.70V563.5H769.93V564.5H770.17V564.5H770.40V564.6H770.64V564.5H770.87V564.6H771.11V564.6H771.34V564.6H771.58V564.6H771.82V564.7H772.05V564.7H772.29V563.2H772.52V562.3H772.76V563.2H772.99V562.6H773.23V562.7H773.46V562.2H773.70V562.9H773.94V563.0H774.17V563.1H774.41V561.7H774.64V564.5H774.88V564.4H775.11V564.4H775.35V564.5H775.59V564.6H775.82V564.3H776.06V563.9H776.29V564.3H776.53V563.8H776.76V564.1H777.00V563.7H777.23V564.1H777.47V563.6H777.71V564.0H777.94V563.9H778.18V563.4H778.41V563.8H778.65V563.7H778.88V563.2H779.12V563.7H779.35V564.7H779.59V564.7H779.83V564.8H780.06V564.8H780.30V564.9H780.53V565.2H780.77V565.2H781.00V565.3H781.24V565.4H781.47V565.4H781.71V565.3H781.95V565.3H782.18V565.3H782.42V565.5H782.65V565.6H782.89V563.6H783.12V564.2H783.36V563.8H783.59V563.5H783.83V564.5H784.07V565.9H784.30V565.9H784.54V566.0H784.77V566.1H785.01V566.1H785.24V566.2H785.48V566.3H785.71V566.3H785.95V566.4H786.19V566.3H786.42V565.0H786.66V565.7H786.89V565.6H787.13V565.1H787.36V565.4H787.60V565.9H787.83V565.9H788.07V566.1H788.31V566.6H788.54V566.2H788.78V565.9H789.01V566.3H789.25V566.4H789.48V565.8H789.72V566.6H789.95V567.0H790.19V566.8H790.43V566.3H790.66V566.7H790.90V566.5H791.13V567.0H791.37V566.7H791.60V566.8H791.84V566.9H792.07V566.5H792.31V567.0H792.55V567.1H792.78V566.6H793.02V566.9H793.25V567.1H793.49V567.6H793.72V567.5H793.96V567.6H794.19V567.6H794.43V567.6H794.67V568.7H794.90V568.7H795.14V568.6H795.37V568.7H795.61V568.7H795.84V569.1H796.08V568.9H796.31V569.2H796.55V569.2H796.79V569.1H797.02V568.1H797.26V568.1H797.49V568.1H797.73V568.0H797.96V568.0H798.20V569.1H798.44V569.2H798.67V568.9H798.91V568.9H799.14V568.9H799.38V567.7H799.61V567.7H799.85V567.7H800.08V567.6H800.32V567.5H800.56V567.8H800.79V567.6H801.03V567.6H801.26V567.4H801.50V567.4H801.73V566.3H801.97V566.1H802.20V566.0H802.44V565.7H802.68V565.8H802.91V565.2H803.15V565.3H803.38V565.4H803.62V564.9H803.85V565.2H804.09V566.8H804.32V566.5H804.56V566.4H804.80V566.5H805.03V566.2H805.27V564.3H805.50V564.2H805.74V563.9H805.97V564.2H806.21V563.8H806.44V563.8H806.68V563.1H806.92V563.7H807.15V563.0H807.39V563.2H807.62V565.3H807.86V565.2H808.09V565.2H808.33V564.8H808.56V564.7H808.80V571.3Z" fill="#ffa500" stroke="#ffa500" stroke-width="0.7" stroke-linejoin="miter"/>
<line x1="337.6" y1="157.2" x2="337.6" y2="571.2" stroke="#111" stroke-width="1.6" stroke-dasharray="9.3 9.15"/><path d="M332.20000000000005,146.6h10.8l-5.4,9.9z" fill="#000"/><text x="337.6" y="140.2" text-anchor="middle" font-size="13.6" fill="#38231f" textLength="21.2" lengthAdjust="spacingAndGlyphs">3:1</text><line x1="489.8" y1="157.2" x2="489.8" y2="571.2" stroke="#111" stroke-width="1.6" stroke-dasharray="9.3 9.15"/><path d="M484.40000000000003,146.6h10.8l-5.4,9.9z" fill="#000"/><text x="489.8" y="140.2" text-anchor="middle" font-size="13.6" fill="#38231f" textLength="21.2" lengthAdjust="spacingAndGlyphs">5:2</text><line x1="552.6" y1="157.2" x2="552.6" y2="571.2" stroke="#111" stroke-width="1.6" stroke-dasharray="9.3 9.15"/><path d="M547.2,146.6h10.8l-5.4,9.9z" fill="#2b1100"/><text x="552.6" y="140.2" text-anchor="middle" font-size="13.6" fill="#38231f" textLength="21.2" lengthAdjust="spacingAndGlyphs">7:3</text><line x1="703.2" y1="157.2" x2="703.2" y2="571.2" stroke="#111" stroke-width="1.6" stroke-dasharray="9.3 9.15"/><path d="M697.8000000000001,146.6h10.8l-5.4,9.9z" fill="#2b1100"/><text x="703.2" y="140.2" text-anchor="middle" font-size="13.6" fill="#38231f" textLength="21.2" lengthAdjust="spacingAndGlyphs">2:1</text>
<rect x="102.1" y="102.5" width="706.7" height="468.7" fill="none" stroke="#0a0a0a" stroke-width="2.1"/>
<path d="M102.1,557.91h5.9M808.8,557.91h-5.9M102.1,544.51h5.9M808.8,544.51h-5.9M102.1,531.12h5.9M808.8,531.12h-5.9M102.1,517.72h5.9M808.8,517.72h-5.9M102.1,504.33h12.3M808.8,504.33h-12.3M102.1,490.94h5.9M808.8,490.94h-5.9M102.1,477.54h5.9M808.8,477.54h-5.9M102.1,464.15h5.9M808.8,464.15h-5.9M102.1,450.75h5.9M808.8,450.75h-5.9M102.1,437.36h12.3M808.8,437.36h-12.3M102.1,423.97h5.9M808.8,423.97h-5.9M102.1,410.57h5.9M808.8,410.57h-5.9M102.1,397.18h5.9M808.8,397.18h-5.9M102.1,383.78h5.9M808.8,383.78h-5.9M102.1,370.39h12.3M808.8,370.39h-12.3M102.1,357.00h5.9M808.8,357.00h-5.9M102.1,343.60h5.9M808.8,343.60h-5.9M102.1,330.21h5.9M808.8,330.21h-5.9M102.1,316.81h5.9M808.8,316.81h-5.9M102.1,303.42h12.3M808.8,303.42h-12.3M102.1,290.03h5.9M808.8,290.03h-5.9M102.1,276.63h5.9M808.8,276.63h-5.9M102.1,263.24h5.9M808.8,263.24h-5.9M102.1,249.84h5.9M808.8,249.84h-5.9M102.1,236.45h12.3M808.8,236.45h-12.3M102.1,223.06h5.9M808.8,223.06h-5.9M102.1,209.66h5.9M808.8,209.66h-5.9M102.1,196.27h5.9M808.8,196.27h-5.9M102.1,182.87h5.9M808.8,182.87h-5.9M102.1,169.48h12.3M808.8,169.48h-12.3M102.1,156.09h5.9M808.8,156.09h-5.9M102.1,142.69h5.9M808.8,142.69h-5.9M102.1,129.30h5.9M808.8,129.30h-5.9M102.1,115.90h5.9M808.8,115.90h-5.9M101.70,571.2v9.4M125.27,571.2v6.2M148.85,571.2v9.4M172.42,571.2v6.2M196.00,571.2v9.4M219.57,571.2v6.2M243.15,571.2v9.4M266.73,571.2v6.2M290.30,571.2v9.4M313.88,571.2v6.2M337.45,571.2v9.4M361.02,571.2v6.2M384.60,571.2v9.4M408.17,571.2v6.2M431.75,571.2v9.4M455.32,571.2v6.2M478.90,571.2v9.4M502.48,571.2v6.2M526.05,571.2v9.4M549.63,571.2v6.2M573.20,571.2v9.4M596.77,571.2v6.2M620.35,571.2v9.4M643.93,571.2v6.2M667.50,571.2v9.4M691.08,571.2v6.2M714.65,571.2v9.4M738.23,571.2v6.2M761.80,571.2v9.4M785.38,571.2v6.2M808.95,571.2v9.4" stroke="#0a0a0a" stroke-width="1.7" fill="none"/>
<g font-size="18.1" fill="#38231f"><text x="91.0" y="578.7" text-anchor="end" textLength="10.9" lengthAdjust="spacingAndGlyphs">0</text><text x="93.2" y="512.1" text-anchor="end" textLength="22.3" lengthAdjust="spacingAndGlyphs">50</text><text x="95.8" y="445.2" text-anchor="end" textLength="33.5" lengthAdjust="spacingAndGlyphs">100</text><text x="95.8" y="378.2" text-anchor="end" textLength="33.5" lengthAdjust="spacingAndGlyphs">150</text><text x="95.8" y="311.2" text-anchor="end" textLength="33.5" lengthAdjust="spacingAndGlyphs">200</text><text x="95.8" y="244.2" text-anchor="end" textLength="33.5" lengthAdjust="spacingAndGlyphs">250</text><text x="95.8" y="177.3" text-anchor="end" textLength="33.5" lengthAdjust="spacingAndGlyphs">300</text><text x="95.7" y="110.3" text-anchor="end" textLength="33.3" lengthAdjust="spacingAndGlyphs">350</text><text x="100.5" y="603.9" text-anchor="middle" textLength="27.4" lengthAdjust="spacingAndGlyphs">2.0</text><text x="147.6" y="603.9" text-anchor="middle" textLength="27.4" lengthAdjust="spacingAndGlyphs">2.1</text><text x="194.6" y="603.9" text-anchor="middle" textLength="27.4" lengthAdjust="spacingAndGlyphs">2.2</text><text x="241.6" y="603.9" text-anchor="middle" textLength="27.4" lengthAdjust="spacingAndGlyphs">2.3</text><text x="288.7" y="603.9" text-anchor="middle" textLength="27.4" lengthAdjust="spacingAndGlyphs">2.4</text><text x="335.8" y="603.9" text-anchor="middle" textLength="27.4" lengthAdjust="spacingAndGlyphs">2.5</text><text x="382.8" y="603.9" text-anchor="middle" textLength="27.4" lengthAdjust="spacingAndGlyphs">2.6</text><text x="429.9" y="603.9" text-anchor="middle" textLength="27.4" lengthAdjust="spacingAndGlyphs">2.7</text><text x="476.9" y="603.9" text-anchor="middle" textLength="27.4" lengthAdjust="spacingAndGlyphs">2.8</text><text x="523.9" y="603.9" text-anchor="middle" textLength="27.4" lengthAdjust="spacingAndGlyphs">2.9</text><text x="571.0" y="603.9" text-anchor="middle" textLength="27.4" lengthAdjust="spacingAndGlyphs">3.0</text><text x="618.1" y="603.9" text-anchor="middle" textLength="27.4" lengthAdjust="spacingAndGlyphs">3.1</text><text x="665.1" y="603.9" text-anchor="middle" textLength="27.4" lengthAdjust="spacingAndGlyphs">3.2</text><text x="712.1" y="603.9" text-anchor="middle" textLength="27.4" lengthAdjust="spacingAndGlyphs">3.3</text><text x="759.2" y="603.9" text-anchor="middle" textLength="27.4" lengthAdjust="spacingAndGlyphs">3.4</text><text x="806.2" y="603.9" text-anchor="middle" textLength="27.4" lengthAdjust="spacingAndGlyphs">3.5</text></g>
<text x="224.16" y="64.6" font-size="32.4" fill="#2b1100" textLength="129.5" lengthAdjust="spacingAndGlyphs">Asteroid</text><text x="364.2" y="64.6" font-size="32.4" fill="#2b1100" textLength="74.94" lengthAdjust="spacingAndGlyphs">Main</text><text x="440.6" y="64.6" font-size="32.4" fill="#2b1100" textLength="10.83" lengthAdjust="spacingAndGlyphs">-</text><text x="451.41" y="64.6" font-size="32.4" fill="#2b1100" textLength="61.41" lengthAdjust="spacingAndGlyphs">Belt</text><text x="524.13" y="64.6" font-size="32.4" fill="#2b1100" textLength="183.31" lengthAdjust="spacingAndGlyphs">Distribution</text><text x="372.18" y="85.0" font-size="22.3" fill="#2b1100" textLength="103.77" lengthAdjust="spacingAndGlyphs">Kirkwood</text><text x="483.37" y="85.0" font-size="22.3" fill="#2b1100" textLength="58.3" lengthAdjust="spacingAndGlyphs">Gaps</text><text x="359.38" y="630.3" font-size="22.3" fill="#2b1100" textLength="127.32" lengthAdjust="spacingAndGlyphs">Semi-major</text><text x="495.66" y="630.3" font-size="22.3" fill="#2b1100" textLength="46.09" lengthAdjust="spacingAndGlyphs">Axis</text><text x="550.22" y="630.3" font-size="22.3" fill="#2b1100" textLength="49.31" lengthAdjust="spacingAndGlyphs">(AU)</text><text x="113.03" y="119.4" font-size="14.4" fill="#151515" textLength="43.73" lengthAdjust="spacingAndGlyphs">Mean</text><text x="161.78" y="119.4" font-size="14.4" fill="#151515" textLength="54.63" lengthAdjust="spacingAndGlyphs">Motion</text><text x="221.93" y="119.4" font-size="14.4" fill="#151515" textLength="88.4" lengthAdjust="spacingAndGlyphs">Resonance</text><text x="138.87" y="140.0" font-size="14.4" fill="#151515" textLength="79.88" lengthAdjust="spacingAndGlyphs">(Asteroid:</text><text x="223.59" y="140.0" font-size="14.4" fill="#151515" textLength="60.11" lengthAdjust="spacingAndGlyphs">Jupiter)</text><text transform="translate(42.8,468.14) rotate(-90)" font-size="29.0" fill="#2b1100" textLength="114.63" lengthAdjust="spacingAndGlyphs">Number</text><text transform="translate(42.8,346.11) rotate(-90)" font-size="29.0" fill="#2b1100" textLength="31.23" lengthAdjust="spacingAndGlyphs">of</text><text transform="translate(42.8,307.64) rotate(-90)" font-size="29.0" fill="#2b1100" textLength="131.44" lengthAdjust="spacingAndGlyphs">Asteroids</text><text transform="translate(60.2,415.25) rotate(-90)" font-size="12.8" fill="#38231f" textLength="140.13" lengthAdjust="spacingAndGlyphs">(per 0.0005 AU bin)</text>
</svg>
</body></html>
